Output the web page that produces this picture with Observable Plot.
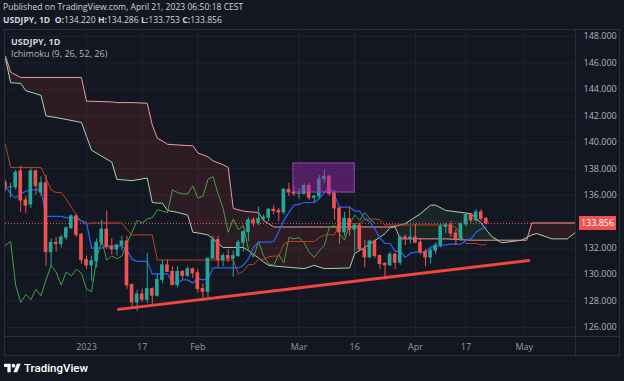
<!DOCTYPE html>
<html><head><meta charset="utf-8">
<script src="https://cdn.jsdelivr.net/npm/d3@7"></script>
<script src="https://cdn.jsdelivr.net/npm/@observablehq/plot@0.6"></script>
<style>
html,body{margin:0;padding:0;background:#131722;width:624px;height:381px;overflow:hidden;font-family:"Open Sans",sans-serif;}
#page{position:relative;width:624px;height:381px;}
.hdr{position:absolute;left:3px;color:#d1d4dc;font-size:8.6px;white-space:nowrap;line-height:12px;}
.hdr b{font-weight:700;}
#box{position:absolute;left:4px;top:29px;width:616px;height:327px;border:1px solid #2a2e39;box-sizing:border-box;}
#chart{position:absolute;left:0;top:0;}
.sepv{position:absolute;left:570px;top:0;width:1px;height:100%;background:#2a2e39;}
.seph{position:absolute;left:0;top:306px;width:100%;height:1px;background:#2a2e39;}
.leg{position:absolute;left:6px;font-size:9px;color:#d1d4dc;white-space:nowrap;line-height:12px;}
#lastlbl{position:absolute;left:574px;width:37px;height:14px;background:#ef5350;color:#fff;font-size:9px;line-height:14px;text-align:center;}
#logo{position:absolute;left:4px;top:361px;height:14px;display:flex;align-items:center;color:#fff;font-family:Roboto,sans-serif;font-weight:500;font-size:11.5px;}
#logo svg{margin-right:3px;}
</style></head>
<body><div id="page">
<div class="hdr" id="h1" style="top:1px;">Published on TradingView.com, April 21, 2023 06:50:18 CEST</div>
<div class="hdr" id="h2" style="top:14px;"></div>
<div id="box">
  <div id="chart"></div>
  <div class="sepv"></div><div class="seph"></div>
  <div class="leg" style="top:6px;font-weight:700;">USDJPY, 1D</div>
  <div class="leg" style="top:18px;color:#b2b5be;">Ichimoku (9, 26, 52, 26)</div>
  <div id="lastlbl"></div>
</div>
<div id="logo"><svg width="17" height="13" viewBox="0 0 36 28"><path d="M14 22H7V11H0V4h14v18z" fill="#fff"/><circle cx="20" cy="8" r="4" fill="#fff"/><path d="M28 22h-8l7.5-18h8L28 22z" fill="#fff"/></svg>TradingView</div>
</div>
<script>
// ---- Daily bars (trading-day index 0 = 2023-01-02) ----
const firstIndex = -16;
const dates = ["2022-12-08","2022-12-09","2022-12-12","2022-12-13","2022-12-14","2022-12-15","2022-12-16","2022-12-19","2022-12-20","2022-12-21","2022-12-22","2022-12-23","2022-12-27","2022-12-28","2022-12-29","2022-12-30",
"2023-01-02","2023-01-03","2023-01-04","2023-01-05","2023-01-06","2023-01-09","2023-01-10","2023-01-11","2023-01-12","2023-01-13","2023-01-16","2023-01-17","2023-01-18","2023-01-19","2023-01-20","2023-01-23","2023-01-24","2023-01-25","2023-01-26","2023-01-27","2023-01-30","2023-01-31",
"2023-02-01","2023-02-02","2023-02-03","2023-02-06","2023-02-07","2023-02-08","2023-02-09","2023-02-10","2023-02-13","2023-02-14","2023-02-15","2023-02-16","2023-02-17","2023-02-20","2023-02-21","2023-02-22","2023-02-23","2023-02-24","2023-02-27","2023-02-28",
"2023-03-01","2023-03-02","2023-03-03","2023-03-06","2023-03-07","2023-03-08","2023-03-09","2023-03-10","2023-03-13","2023-03-14","2023-03-15","2023-03-16","2023-03-17","2023-03-20","2023-03-21","2023-03-22","2023-03-23","2023-03-24","2023-03-27","2023-03-28","2023-03-29","2023-03-30","2023-03-31",
"2023-04-03","2023-04-04","2023-04-05","2023-04-06","2023-04-07","2023-04-10","2023-04-11","2023-04-12","2023-04-13","2023-04-14","2023-04-17","2023-04-18","2023-04-19","2023-04-20","2023-04-21"];
const opens = [136.9,136.6,136.6,137.8,135.6,135.3,137.8,136.2,136.9,131.7,132.4,132.3,132.8,133.5,134.4,133.0,
131.1,130.7,131.0,132.4,133.4,132.1,131.9,132.2,132.5,129.2,127.9,128.5,128.1,128.9,128.4,129.6,130.7,130.2,129.2,130.2,129.9,130.4,
130.1,128.9,128.7,131.2,132.6,131.1,131.4,131.2,131.4,132.4,133.2,134.1,133.9,134.2,134.3,134.9,134.8,134.7,136.4,136.2,
136.1,136.1,136.7,135.8,135.9,137.2,137.4,136.1,135.0,133.2,134.2,133.4,133.7,131.9,131.3,132.5,131.4,130.8,130.7,131.5,130.9,132.8,132.7,
132.8,132.4,131.7,131.3,131.8,132.2,133.6,133.7,133.1,132.6,133.8,134.5,134.1,134.7,134.220];
const highs = [137.1,136.9,137.9,138.2,135.9,138.0,137.9,137.4,137.5,132.7,132.8,133.0,133.6,134.5,134.5,133.1,
131.4,131.4,132.7,134.1,134.8,132.7,132.3,132.9,132.9,129.3,128.8,128.9,131.6,129.0,130.0,131.1,131.1,130.6,130.6,130.3,130.6,130.5,
130.4,129.3,131.2,132.9,132.9,131.6,131.9,131.8,132.6,133.3,134.3,134.3,135.1,134.5,135.0,135.2,135.0,136.5,136.9,136.7,
136.5,136.9,136.9,136.0,137.5,137.9,137.5,136.4,135.1,134.7,135.1,133.8,133.9,132.6,132.6,132.6,131.5,130.9,131.7,131.6,132.9,133.0,133.6,
133.8,132.7,131.9,132.0,132.4,133.8,133.9,134.0,133.4,133.9,134.6,134.6,134.9,134.9,134.286];
const lows = [136.3,135.8,136.4,134.7,134.6,135.0,136.0,135.9,130.6,130.6,131.7,132.0,132.6,133.4,132.8,130.8,
130.4,129.5,130.5,132.2,131.9,131.5,131.4,131.8,128.9,127.5,127.2,127.9,127.8,127.6,128.3,129.3,130.2,129.2,129.0,129.6,129.8,129.7,
128.6,128.1,128.1,131.2,130.5,130.6,130.9,129.8,131.3,131.7,132.5,133.6,133.7,134.0,134.0,134.5,134.0,134.5,135.9,135.9,
135.7,136.0,135.6,135.4,135.7,136.9,135.9,134.1,132.3,132.9,132.9,131.7,131.8,130.5,131.2,131.2,130.4,129.6,130.6,130.4,130.7,132.2,132.3,
132.4,131.5,130.6,130.8,131.5,132.0,133.1,132.8,132.2,132.5,133.6,133.9,133.9,134.0,133.753];
const closes = [136.6,136.6,137.7,135.6,135.2,137.8,136.7,136.9,131.7,132.4,132.3,132.8,133.5,134.4,133.0,131.1,
130.7,131.0,132.4,133.4,132.1,131.9,132.2,132.5,129.2,127.9,128.5,128.1,128.9,128.4,129.6,130.7,130.2,129.2,130.2,129.9,130.4,130.1,
128.9,128.7,131.2,132.6,131.1,131.4,131.2,131.4,132.4,133.2,134.1,133.9,134.2,134.3,134.9,134.8,134.7,136.4,136.2,136.1,
136.1,136.7,135.8,135.9,137.2,137.4,136.1,135.0,133.2,134.2,133.4,133.7,131.9,131.3,132.5,131.4,130.8,130.7,131.5,130.9,132.8,132.7,132.8,
132.4,131.7,131.3,131.8,132.2,133.6,133.7,133.1,132.6,133.8,134.5,134.1,134.7,134.2,133.856];

// ---- Ichimoku (9, 26, 52, 26) ----
const tenkan = [136.7,136.1,135.8,136.1,136.3,136.4,136.4,136.4,134.4,134.4,134.4,134.4,134.3,134.3,134.25,134.05,
133.95,132.0,132.0,132.0,132.15,132.15,132.15,132.15,131.85,131.15,131.0,131.0,131.0,130.05,130.05,130.05,130.05,129.4,129.4,129.6,129.6,129.35,
129.7,129.6,129.65,130.5,130.5,130.5,130.5,130.5,130.5,130.7,131.2,132.05,132.45,132.45,132.45,132.5,133.25,134.1,134.7,135.25,
135.3,135.45,135.45,135.45,135.75,136.2,136.65,136.0,135.1,135.1,135.1,134.8,134.8,134.2,134.0,133.45,132.75,132.35,132.35,131.75,131.75,131.3,131.6,
131.7,131.7,131.7,132.1,132.1,132.2,132.25,132.3,132.3,132.3,132.6,132.7,133.2,133.45,133.55];
const kijun = [139.8,138.1,138.1,138.1,138.1,138.1,138.1,138.1,137.3,136.4,136.2,136.2,135.7,135.1,134.5,134.0,
133.8,133.9,133.9,133.9,133.9,133.9,133.9,133.9,133.4,133.0,133.0,133.0,133.0,133.0,131.1,131.1,131.1,131.1,131.1,131.1,131.1,131.1,
131.1,131.1,131.1,131.1,131.1,131.1,131.1,131.1,130.05,130.25,130.75,130.75,131.15,131.15,131.35,131.4,131.4,132.3,132.5,132.5,
132.5,132.5,132.5,132.5,132.8,133.0,133.0,133.0,133.85,133.85,133.85,133.85,133.85,134.2,134.2,134.2,134.15,133.75,133.75,133.75,133.75,133.75,133.75,
133.75,133.75,133.75,133.75,133.75,133.75,133.75,133.75,133.55,133.0,132.35,132.35,132.35,132.25,132.25];
const lagShift = 22; // lagging span drawn this many bars back
const cloudIdx = [-16,-15,-13,-12,-9,-8,-5,-1,0,1,5,6,9,12,13,14,15,16,18,20,21,22,24,25,26,27,28,29,31,32,34,35,36,37,40,43,45,47,52,53,55,59,60,61,62,63,66,68,69,71,76,78,80,82,86,87,88,89,92,95,97];
const spanA = [146.3,144.5,144.45,143.9,143.55,142.0,141.8,141.5,140.45,139.4,138.5,137.2,137.1,137.3,135.45,135.4,135.4,134.85,134.7,134.5,133.2,133.15,133.0,132.7,132.35,132.05,132.05,132.05,132.05,131.8,131.25,130.95,130.7,130.65,130.55,130.45,130.7,130.45,130.5,131.6,132.05,133.1,133.55,133.65,133.75,133.85,134.6,135.25,135.25,134.85,134.6,133.9,132.9,132.4,132.6,132.8,133.0,133.1,132.7,132.7,133.3];
const spanB = [146.5,145.3,144.9,144.9,144.9,144.9,144.9,144.9,143.1,143.1,143.05,143.0,143.0,142.95,141.3,140.3,140.1,139.85,139.8,139.75,139.75,139.2,138.9,138.6,138.45,138.3,138.1,135.0,134.8,134.75,134.7,134.1,133.85,133.6,133.6,133.6,133.6,133.6,133.6,133.6,133.6,133.6,133.6,133.6,132.7,132.7,132.7,132.7,132.7,132.7,132.6,132.6,132.6,132.6,132.6,132.6,133.9,133.9,133.9,133.9,133.9];

// ---- Drawings ----
const trendIdx = [6.3, 87.4];
const trendPrice = [127.37, 131.07];
const boxIdx = [40.9, 53.0];
const boxPrice = [136.2, 138.4];

// ---- Axes ----
const gridTicks = [126,128,130,132,134,136,138,140,142,144,146,148];
const yTickLabels = [126,128,130,132,136,138,140,142,144,146,148];
const xTickIdx = [0, 11, 22, 42, 53, 65, 75, 86.5];
const xTickLabels = ["2023","17","Feb","Mar","16","Apr","17","May"];

const UP = "#26a69a", DOWN = "#ef5350";
const bars = dates.map((d, k) => ({i: k + firstIndex, o: opens[k], h: highs[k], l: lows[k], c: closes[k]}));
const col = d => d.c >= d.o ? UP : DOWN;
const tk = tenkan.map((v, k) => ({i: k + firstIndex, v}));
const kj = kijun.map((v, k) => ({i: k + firstIndex, v}));
const lag = bars.filter(b => b.i - lagShift >= firstIndex).map(b => ({i: b.i - lagShift, v: b.c}));
const cloud = cloudIdx.map((x, k) => ({x, a: spanA[k], b: spanB[k]}));
const trend = trendIdx.map((x, k) => ({x, y: trendPrice[k]}));
const box = [{x1: boxIdx[0], x2: boxIdx[1], y1: boxPrice[0], y2: boxPrice[1]}];
const last = bars[bars.length - 1];
const labelOf = new Map(xTickIdx.map((t, k) => [t, xTickLabels[k]]));

const chart = Plot.plot({
  width: 614, height: 325,
  marginTop: 0, marginRight: 44, marginBottom: 19, marginLeft: 0,
  x: {domain: [-16.01, 96.64]},
  y: {domain: [125.32, 148.45]},
  color: {type: "identity"},
  style: {background: "transparent", fontFamily: "Open Sans, sans-serif", fontSize: "9px", color: "#b2b5be"},
  marks: [
    Plot.gridX({ticks: xTickIdx, stroke: "#1f2330", strokeOpacity: 1}),
    Plot.gridY({ticks: gridTicks, stroke: "#1f2330", strokeOpacity: 1}),
    Plot.areaY(cloud, {x: "x", y1: "a", y2: d => Math.max(d.a, d.b), fill: "#f44336", fillOpacity: 0.12, clip: true}),
    Plot.areaY(cloud, {x: "x", y1: "b", y2: d => Math.max(d.a, d.b), fill: "#43a047", fillOpacity: 0.12, clip: true}),
    Plot.line(cloud, {x: "x", y: "a", stroke: "#a5d6a7", strokeWidth: 1, clip: true}),
    Plot.line(cloud, {x: "x", y: "b", stroke: "#ef9a9a", strokeWidth: 1, clip: true}),
    Plot.ruleY([last.c], {stroke: DOWN, strokeDasharray: "1,2", strokeWidth: 1}),
    Plot.line(lag, {x: "i", y: "v", stroke: "#43a047", strokeWidth: 1, clip: true}),
    Plot.line(kj, {x: "i", y: "v", stroke: "#c1411c", strokeWidth: 1, clip: true}),
    Plot.line(tk, {x: "i", y: "v", stroke: "#2962ff", strokeWidth: 1.2, clip: true}),
    Plot.ruleX(bars, {x: "i", y1: "l", y2: "h", stroke: col, strokeWidth: 1, clip: true}),
    Plot.rect(bars, {x1: d => d.i - 0.36, x2: d => d.i + 0.36, y1: "o", y2: "c", fill: col, insetTop: -0.5, insetBottom: -0.5, clip: true}),
    Plot.rect(box, {x1: "x1", x2: "x2", y1: "y1", y2: "y2", fill: "#9c27b0", fillOpacity: 0.45, stroke: "#a24cc0", strokeOpacity: 0.9}),
    Plot.line(trend, {x: "x", y: "y", stroke: "#f2453d", strokeWidth: 3, strokeLinecap: "round"}),
    Plot.axisY({ticks: yTickLabels, anchor: "right", tickSize: 0, tickPadding: 8, tickFormat: d => d.toFixed(3), label: null, fill: "#b2b5be"}),
    Plot.axisX({ticks: xTickIdx, tickSize: 0, tickPadding: 7, tickFormat: d => labelOf.get(d), label: null, fill: "#9598a1"})
  ]
});
document.getElementById("chart").appendChild(chart);

const yPos = chart.scale("y").apply(last.c);
const lbl = document.getElementById("lastlbl");
lbl.style.top = (yPos - 7) + "px";
lbl.textContent = last.c.toFixed(3);
document.getElementById("h2").innerHTML =
  `<b>USDJPY, 1D</b>&nbsp; <b>O:</b>${last.o.toFixed(3)} <b>H:</b>${last.h.toFixed(3)} <b>L:</b>${last.l.toFixed(3)} <b>C:</b>${last.c.toFixed(3)}`;
</script>
</body></html>
